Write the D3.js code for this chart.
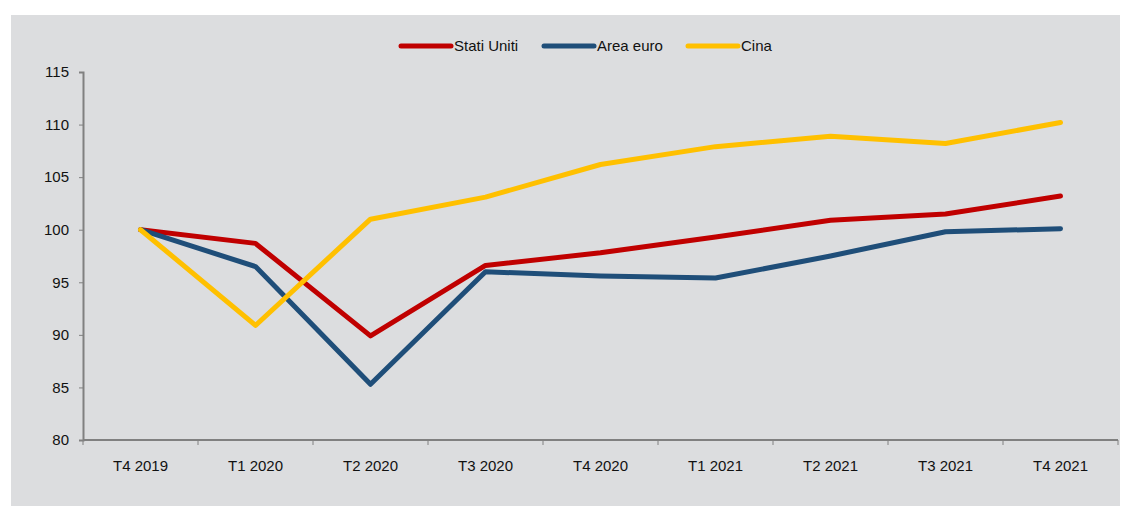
<!DOCTYPE html>
<html>
<head>
<meta charset="utf-8">
<script src="https://cdn.jsdelivr.net/npm/d3@7"></script>
<style>
  html, body { margin: 0; padding: 0; background: #ffffff; }
  svg { display: block; font-family: Arial, "Liberation Sans", sans-serif; }
</style>
</head>
<body>
<svg id="chart" width="1130" height="507"></svg>
<script>
// Quarters on the x axis
const quarters = ["T4 2019", "T1 2020", "T2 2020", "T3 2020", "T4 2020", "T1 2021", "T2 2021", "T3 2021", "T4 2021"];

// GDP index, T4 2019 = 100
const statiUniti = [100, 98.7, 89.9, 96.6, 97.8, 99.3, 100.9, 101.5, 103.2];
const areaEuro   = [100, 96.5, 85.3, 96.0, 95.6, 95.4, 97.5, 99.8, 100.1];
const cina       = [100, 90.9, 101.0, 103.1, 106.2, 107.9, 108.9, 108.2, 110.2];

const yTicks = [80, 85, 90, 95, 100, 105, 110, 115];

const series = [
  { name: "Stati Uniti", values: statiUniti, color: "#C00000" },
  { name: "Area euro",   values: areaEuro,   color: "#1F4E79" },
  { name: "Cina",        values: cina,       color: "#FFC000" }
];

const svg = d3.select("#chart");

// Grey panel
svg.append("rect")
  .attr("x", 11).attr("y", 15)
  .attr("width", 1109).attr("height", 491)
  .attr("fill", "#DCDDDF");

const plotLeft = 83, plotRight = 1118, plotTop = 72, plotBottom = 440;

const x = d3.scaleBand().domain(quarters).range([plotLeft, plotRight]);
const y = d3.scaleLinear().domain([80, 115]).range([plotBottom, plotTop]);

const axisColor = "#808080";

// Y axis
const yAxis = svg.append("g")
  .attr("transform", `translate(${plotLeft},0)`)
  .call(d3.axisLeft(y).tickValues(yTicks).tickSize(4).tickPadding(10).tickFormat(d3.format("d")));
yAxis.select(".domain").attr("stroke", axisColor).attr("stroke-width", 2);
yAxis.selectAll(".tick line").attr("stroke", axisColor).attr("stroke-width", 1);
yAxis.selectAll(".tick text")
  .attr("fill", "#111").attr("font-size", 15).attr("font-family", "Arial, 'Liberation Sans', sans-serif");

// X axis: ticks at band boundaries, labels centred in bands
const xg = svg.append("g");
xg.append("line")
  .attr("x1", plotLeft).attr("x2", plotRight)
  .attr("y1", plotBottom).attr("y2", plotBottom)
  .attr("stroke", axisColor).attr("stroke-width", 2);
const bounds = quarters.map(q => x(q)).concat([x(quarters[quarters.length - 1]) + x.bandwidth()]);
xg.selectAll("line.tk").data(bounds).enter().append("line")
  .attr("class", "tk")
  .attr("x1", d => d).attr("x2", d => d)
  .attr("y1", plotBottom).attr("y2", plotBottom + 5)
  .attr("stroke", axisColor).attr("stroke-width", 1);
xg.selectAll("text").data(quarters).enter().append("text")
  .attr("x", d => x(d) + x.bandwidth() / 2)
  .attr("y", 471)
  .attr("text-anchor", "middle")
  .attr("font-size", 15)
  .attr("fill", "#111")
  .text(d => d);

// Lines
const line = d3.line()
  .x((d, i) => x(quarters[i]) + x.bandwidth() / 2)
  .y(d => y(d));

svg.append("g").selectAll("path").data(series).enter().append("path")
  .attr("d", d => line(d.values))
  .attr("fill", "none")
  .attr("stroke", d => d.color)
  .attr("stroke-width", 5)
  .attr("stroke-linejoin", "round")
  .attr("stroke-linecap", "round");

// Legend
const legendX = [401, 544, 688];
const lg = svg.append("g").selectAll("g").data(series).enter().append("g")
  .attr("transform", (d, i) => `translate(${legendX[i]},46)`);
lg.append("line")
  .attr("x1", 0).attr("x2", 50).attr("y1", 0).attr("y2", 0)
  .attr("stroke", d => d.color).attr("stroke-width", 5).attr("stroke-linecap", "round");
lg.append("text")
  .attr("x", 53).attr("y", 5)
  .attr("font-size", 15).attr("fill", "#111")
  .text(d => d.name);
</script>
</body>
</html>
